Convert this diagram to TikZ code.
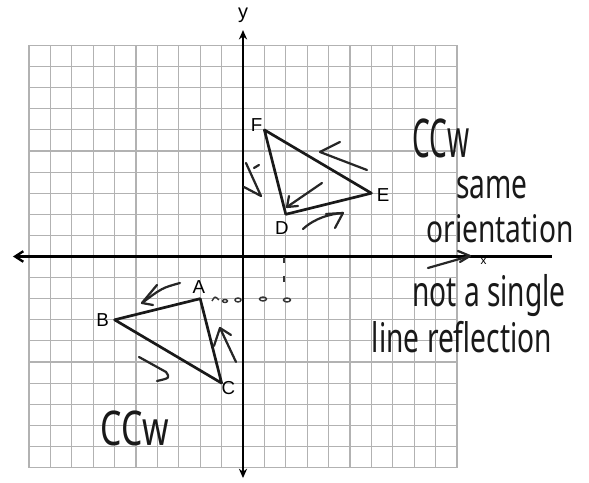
\documentclass[tikz,border=0pt]{standalone}
\usepackage{fontspec}
\setmainfont{Liberation Sans}
\newfontfamily\hand{Noto Sans}
\usetikzlibrary{arrows.meta}
\tikzset{
  gridline/.style={gray!60, line width=0.9pt},
  axisline/.style={black, line width=2pt},
  triline/.style={black!90, line width=2.3pt, line join=round},
  penline/.style={black!85, line width=1.9pt, line cap=round, line join=round},
  ptlabel/.style={font=\fontsize{16}{18}\selectfont, inner sep=1pt},
  handtext/.style={font=\hand\fontsize{24}{26}\selectfont, inner sep=0pt, text=black!90},
  dotmark/.style={black!80, line width=1.2pt},
}
\begin{document}
\begin{tikzpicture}[x=0.642cm,y=0.633cm]
\useasboundingbox (-7.29cm,-6.765cm) rectangle (10.38cm,7.695cm);
\fill[white] (-7.29cm,-6.765cm) rectangle (10.38cm,7.695cm);
% grid
\foreach \i in {-10,...,10} {
  \draw[gridline] (\i,-10) -- (\i,10);
  \draw[gridline] (-10,\i) -- (10,\i);
}
% axes
\coordinate (yb) at (0,-10.5);
\coordinate (yt) at (0,10.73);
\coordinate (xl) at (-10.75,0);
\coordinate (xr) at (14.44,0);
\draw[axisline,{Stealth[length=8pt,width=7pt]}-{Stealth[length=8pt,width=7pt]}] (yb) -- (yt);
\draw[axisline,{Straight Barb[length=7pt,width=9pt]}-] (xl) -- (xr);
\node[font=\fontsize{11}{12}\selectfont] (ylab) at (0,11.45) {\fontsize{17}{19}\selectfont y};
\node[font=\fontsize{10}{11}\selectfont, inner sep=0pt] (xlab) at (11.24,-0.24) {x};
% triangles
\coordinate (A) at (-2,-2);
\coordinate (B) at (-6,-3);
\coordinate (C) at (-1,-6);
\coordinate (D) at (2,2);
\coordinate (E) at (6,3);
\coordinate (F) at (1,6);
\draw[triline] (A) -- (B) -- (C) -- cycle;
\draw[triline] (D) -- (E) -- (F) -- cycle;
\node[ptlabel] (Al) at (-2.06,-1.45) {A};
\node[ptlabel] (Bl) at (-6.56,-3.0) {B};
\node[ptlabel] (Cl) at (-0.68,-6.25) {C};
\node[ptlabel] (Dl) at (1.82,1.33) {D};
\node[ptlabel] (El) at (6.55,2.91) {E};
\node[ptlabel] (Fl) at (0.63,6.25) {F};
% handwriting, pixel coordinates
\begin{scope}[xshift=-7.29cm,yshift=7.695cm,x=0.03cm,y=-0.03cm]
  \node[handtext, yscale=1.9] (ccwa) at (441,138) {CCw};
  \node[handtext, yscale=1.45] (same) at (492,188) {same};
  \node[handtext, yscale=1.35] (orient) at (500,229) {orientation};
  \node[handtext, yscale=1.5] (notas) at (489,296) {not a single};
  \node[handtext, yscale=1.45] (linere) at (462,337) {line reflection};
  \node[handtext, xscale=1.2, yscale=1.7] (ccwb) at (135,428) {CCw};
  % hand-drawn arrows
  \draw[penline] (340,142) -- (320,152) -- (333,157) -- (367,170);
  \draw[penline] (246,163) -- (261,196) -- (244,187);
  \draw[penline] (254,168) -- (259,165);
  \draw[penline] (322,183) -- (287,207);
  \draw[penline] (289,196) -- (287,207) -- (298,206);
  \draw[penline] (303,229) .. controls (315,218) and (330,214) .. (343,213);
  \draw[penline] (326,214) -- (343,213) -- (335,228);
  \draw[penline] (180,283) .. controls (162,288) .. (142,303);
  \draw[penline] (157,285) -- (142,303) -- (153,305);
  \draw[penline] (139,357) -- (166,372) .. controls (170,378) .. (157,381);
  \draw[penline] (236,362) -- (220,328) -- (214,346);
  \draw[penline] (220,328) -- (231,335);
  \draw[penline] (428,268) -- (470,256);
  \draw[penline] (458,251) -- (470,256) -- (460,262);
  % dotted marks from A
  \draw[dotmark] (212,301) .. controls (215,296) .. (219,300);
  \draw[dotmark] (225,301) circle[x radius=2.5, y radius=1.5];
  \draw[dotmark] (238,300) circle[x radius=3, y radius=2];
  \draw[dotmark] (263,299) circle[x radius=3.5, y radius=2];
  \draw[dotmark] (287,300) circle[x radius=3.5, y radius=2];
  \draw[dotmark] (284,257) -- (284,263);
  \draw[dotmark] (284,276) -- (284,282);
\end{scope}
\end{tikzpicture}
\end{document}
